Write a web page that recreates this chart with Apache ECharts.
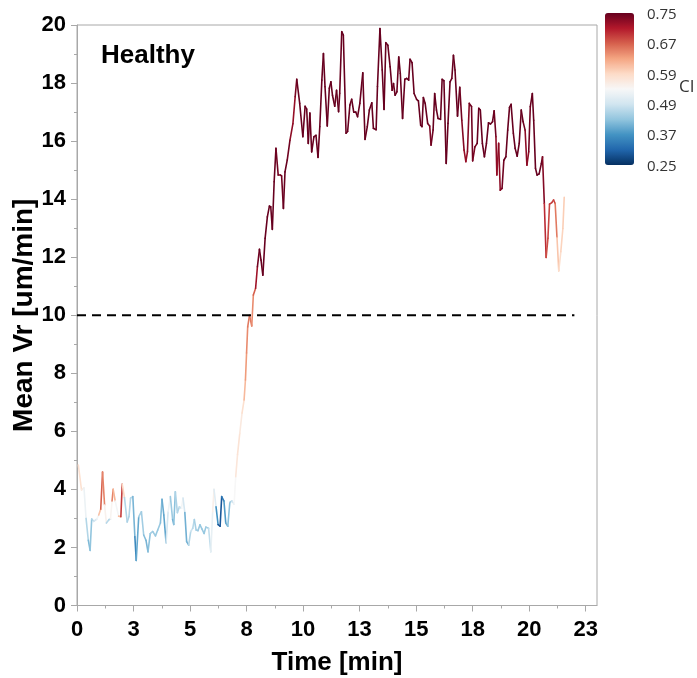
<!DOCTYPE html>
<html>
<head>
<meta charset="utf-8">
<script src="https://cdn.jsdelivr.net/npm/echarts@6/dist/echarts.min.js"></script>
<style>
  html, body { margin: 0; padding: 0; background: #fff; }
  #chart { width: 697px; height: 678px; }
</style>
</head>
<body>
<div id="chart"></div>
<script>
// Time of each sample [min]
const timeMin = [
  0.06, 0.2, 0.31, 0.4, 0.5, 0.58, 0.65, 0.74, 0.88, 0.96,
  1.05, 1.13, 1.22, 1.3, 1.42, 1.48, 1.55, 1.6, 1.69, 1.84,
  1.94, 2.0, 2.1, 2.22, 2.3, 2.37, 2.47, 2.56, 2.62, 2.73,
  2.85, 2.95, 3.05, 3.14, 3.24, 3.35, 3.47, 3.57, 3.69, 3.76,
  3.84, 3.94, 4.03, 4.13, 4.23, 4.28, 4.35, 4.44, 4.53, 4.62,
  4.69, 4.77, 4.85, 4.94, 5.03, 5.12, 5.19, 5.27, 5.35, 5.44,
  5.53, 5.62, 5.7, 5.82, 5.92, 6.0, 6.06, 6.15, 6.24, 6.33,
  6.4, 6.5, 6.58, 6.67, 6.76, 6.85, 6.95, 7.02, 7.1, 7.2,
  7.3, 7.39, 7.45, 7.5, 7.55, 7.63, 7.73, 7.8, 7.9, 7.98,
  8.07, 8.14, 8.22, 8.32, 8.42, 8.51, 8.57, 8.64, 8.72, 8.8,
  8.9, 9.0, 9.05, 9.13, 9.2, 9.3, 9.42, 9.55, 9.65, 9.72,
  9.85, 9.99, 10.09, 10.16, 10.23, 10.3, 10.38, 10.48, 10.57, 10.66,
  10.74, 10.83, 10.9, 10.97, 11.07, 11.16, 11.23, 11.3, 11.4, 11.48,
  11.57, 11.62, 11.71, 11.78, 11.9, 11.97, 12.07, 12.15, 12.24, 12.33,
  12.41, 12.51, 12.64, 12.74, 12.84, 12.93, 13.04, 13.11, 13.23, 13.29,
  13.4, 13.5, 13.58, 13.66, 13.75, 13.85, 13.94, 14.0, 14.07, 14.15,
  14.23, 14.3, 14.4, 14.5, 14.58, 14.67, 14.73, 14.82, 14.91, 15.02,
  15.1, 15.2, 15.26, 15.32, 15.4, 15.51, 15.6, 15.66, 15.75, 15.82,
  15.9, 15.97, 16.08, 16.15, 16.23, 16.33, 16.41, 16.5, 16.58, 16.65,
  16.72, 16.83, 16.93, 17.02, 17.12, 17.2, 17.27, 17.35, 17.45, 17.5,
  17.6, 17.7, 17.77, 17.84, 17.93, 18.02, 18.11, 18.2, 18.29, 18.38,
  18.45, 18.53, 18.57, 18.65, 18.72, 18.8, 18.88, 18.97, 19.05, 19.13,
  19.2, 19.3, 19.38, 19.47, 19.56, 19.65, 19.73, 19.82, 19.9, 19.98,
  20.05, 20.14, 20.2, 20.28, 20.35, 20.44, 20.54, 20.59, 20.67, 20.75,
  20.83, 20.9, 21.0, 21.08, 21.15, 21.23, 21.31, 21.4, 21.49, 21.55
];

// Mean radial velocity [um/min]
const meanVr = [
  4.84, 3.98, 4.05, 3.0, 2.25, 1.9, 2.98, 2.9, 2.98, 3.12,
  3.32, 4.6, 3.46, 2.84, 2.96, 2.98, 3.6, 4.0, 3.6, 3.08,
  3.06, 4.18, 3.72, 2.88, 3.07, 3.7, 3.75, 2.37, 1.55, 3.06,
  3.23, 2.43, 2.25, 1.85, 2.48, 2.55, 2.4, 2.6, 2.84, 3.66,
  3.12, 2.16, 3.23, 3.75, 2.96, 2.79, 3.92, 3.2, 3.4, 3.35,
  3.7, 3.2, 2.2, 2.08, 2.55, 2.66, 2.96, 2.6, 2.58, 2.78,
  2.63, 2.48, 2.7, 2.66, 1.85, 3.23, 4.0, 3.4, 2.79, 2.73,
  3.75, 3.6, 2.84, 2.73, 3.55, 3.6, 3.5, 4.44, 5.2, 5.94,
  6.63, 7.08, 7.77, 8.7, 9.6, 10.0, 9.63, 10.7, 10.93, 11.67,
  12.27, 11.9, 11.38, 12.65, 13.39, 13.76, 13.74, 12.96, 14.6, 15.75,
  14.83, 14.83, 14.8, 13.68, 14.94, 15.35, 16.03, 16.6, 17.53, 18.13,
  17.3, 16.15, 17.2, 17.1, 15.92, 16.97, 15.63, 16.15, 16.2, 15.44,
  16.5, 18.1, 19.02, 17.87, 16.52, 17.82, 18.04, 17.58, 17.2, 17.75,
  17.01, 17.65, 19.77, 19.65, 16.27, 16.33, 17.24, 17.44, 17.0, 17.0,
  16.84, 17.3, 18.35, 16.06, 16.5, 17.07, 17.32, 16.44, 16.39, 17.88,
  19.88, 18.45, 17.09, 19.39, 19.3, 18.56, 17.75, 17.98, 17.58, 17.7,
  18.9, 18.33, 16.78, 18.13, 18.16, 18.1, 18.82, 18.7, 17.64, 17.44,
  17.39, 16.55, 16.5, 17.5, 17.3, 16.61, 16.52, 15.86, 16.38, 17.64,
  17.07, 16.78, 16.75, 18.13, 18.08, 15.23, 16.61, 18.04, 18.16, 18.96,
  18.45, 16.86, 17.85, 16.72, 15.69, 15.29, 15.63, 17.3, 17.19, 15.32,
  15.8, 15.92, 17.13, 17.07, 15.92, 15.46, 15.92, 16.63, 16.59, 16.67,
  17.04, 16.15, 14.83, 15.92, 14.31, 14.37, 15.34, 15.46, 16.38, 17.16,
  17.27, 16.27, 15.75, 15.48, 15.92, 17.07, 16.67, 16.38, 15.17, 15.63,
  17.19, 17.64, 16.72, 15.06, 14.83, 14.87, 15.23, 15.46, 13.85, 11.99,
  12.65, 13.83, 13.88, 13.97, 13.85, 12.68, 11.53, 12.19, 12.99, 14.06
];

// Confidence index (CI) of each sample
const ci = [
  0.59, 0.57, 0.55, 0.50, 0.42, 0.41, 0.45, 0.47, 0.52, 0.55,
  0.66, 0.68, 0.62, 0.47, 0.46, 0.46, 0.62, 0.68, 0.55, 0.52,
  0.69, 0.69, 0.47, 0.45, 0.46, 0.46, 0.46, 0.36, 0.35, 0.44,
  0.46, 0.43, 0.41, 0.41, 0.44, 0.45, 0.43, 0.44, 0.43, 0.41,
  0.39, 0.39, 0.58, 0.47, 0.41, 0.40, 0.45, 0.46, 0.46, 0.50,
  0.57, 0.41, 0.40, 0.42, 0.50, 0.47, 0.46, 0.44, 0.45, 0.43,
  0.44, 0.43, 0.44, 0.45, 0.50, 0.54, 0.57, 0.44, 0.30, 0.29,
  0.30, 0.37, 0.39, 0.41, 0.44, 0.46, 0.52, 0.56, 0.58, 0.57,
  0.56, 0.60, 0.63, 0.64, 0.65, 0.66, 0.65, 0.64, 0.70, 0.74,
  0.76, 0.76, 0.76, 0.76, 0.76, 0.76, 0.76, 0.76, 0.76, 0.76,
  0.74, 0.74, 0.74, 0.76, 0.76, 0.76, 0.74, 0.72, 0.73, 0.76,
  0.76, 0.76, 0.76, 0.76, 0.76, 0.76, 0.76, 0.76, 0.76, 0.76,
  0.76, 0.76, 0.76, 0.76, 0.76, 0.76, 0.76, 0.76, 0.76, 0.76,
  0.76, 0.76, 0.76, 0.76, 0.76, 0.76, 0.76, 0.76, 0.76, 0.76,
  0.76, 0.76, 0.76, 0.76, 0.76, 0.76, 0.76, 0.76, 0.76, 0.76,
  0.76, 0.76, 0.76, 0.76, 0.76, 0.76, 0.76, 0.76, 0.76, 0.76,
  0.76, 0.76, 0.76, 0.76, 0.76, 0.76, 0.76, 0.76, 0.76, 0.76,
  0.76, 0.76, 0.76, 0.76, 0.76, 0.76, 0.74, 0.74, 0.76, 0.76,
  0.76, 0.76, 0.76, 0.76, 0.76, 0.76, 0.76, 0.76, 0.76, 0.76,
  0.76, 0.76, 0.76, 0.74, 0.73, 0.72, 0.73, 0.74, 0.76, 0.74,
  0.74, 0.76, 0.76, 0.76, 0.76, 0.76, 0.76, 0.76, 0.76, 0.76,
  0.76, 0.74, 0.72, 0.73, 0.73, 0.74, 0.76, 0.76, 0.76, 0.76,
  0.76, 0.76, 0.76, 0.76, 0.76, 0.76, 0.76, 0.74, 0.72, 0.74,
  0.76, 0.76, 0.76, 0.76, 0.76, 0.76, 0.76, 0.76, 0.72, 0.68,
  0.68, 0.69, 0.69, 0.69, 0.68, 0.63, 0.58, 0.59, 0.60, 0.60
];

// Colour-bar tick values, bottom to top (evenly spaced on the bar)
const ciTicks = [0.25, 0.37, 0.49, 0.59, 0.67, 0.75];
const ciLabels = ['0.25', '0.37', '0.49', '0.59', '0.67', '0.75'];

// x axis: labelled ticks every 2.5 min, minor ticks in between
const xMajorTicks = [0, 2.5, 5, 7.5, 10, 12.5, 15, 17.5, 20, 22.5];
const xMinorTicks = [1.25, 3.75, 6.25, 8.75, 11.25, 13.75, 16.25, 18.75, 21.25];

// Reference level drawn as a dashed line
const thresholdVr = 10;
const thresholdSpan = [0, 22];

// Diverging red-blue palette, low to high
const rdbu = ['#053061', '#2166ac', '#4393c3', '#92c5de', '#d1e5f0', '#f7f7f7',
              '#fddbc7', '#f4a582', '#d6604d', '#b2182b', '#67001f'];

const FONT = '"Liberation Sans", Arial, Helvetica, sans-serif';

// Position of a CI value on the colour bar (0 .. ciTicks.length-1)
function ciToBar(v) {
  if (v <= ciTicks[0]) return 0;
  const last = ciTicks.length - 1;
  if (v >= ciTicks[last]) return last;
  for (let k = 0; k < last; k++) {
    if (v <= ciTicks[k + 1]) {
      return k + (v - ciTicks[k]) / (ciTicks[k + 1] - ciTicks[k]);
    }
  }
  return last;
}

// One item per line piece: [t0, v0, t1, v1, bar position]
const pieces = [];
for (let i = 0; i < timeMin.length - 1; i++) {
  pieces.push([timeMin[i], meanVr[i], timeMin[i + 1], meanVr[i + 1],
               (ciToBar(ci[i]) + ciToBar(ci[i + 1])) / 2]);
}

// Colour-bar geometry
const barLeft = 605, barTop = 13, barW = 29, barH = 152;
const cbGraphics = [];
ciLabels.forEach(function (lab, k) {
  const y = barTop + barH - k * (barH / (ciLabels.length - 1));
  cbGraphics.push({
    type: 'text', left: barLeft + barW + 13, top: y - 6,
    style: { text: lab, font: '15px "Open Sans", "Noto Sans", sans-serif', fill: '#333' }
  });
});
cbGraphics.push({
  type: 'text', left: 679, top: 79,
  style: { text: 'CI', font: '17px "Open Sans", "Noto Sans", sans-serif', fill: '#333' }
});

const chart = echarts.init(document.getElementById('chart'), null, { renderer: 'canvas' });

const axisGray = '#a8a8a8';

chart.setOption({
  animation: false,
  backgroundColor: '#fff',
  title: {
    text: 'Healthy', left: 96, top: 38,
    textStyle: { fontFamily: FONT, fontWeight: 'bold', fontSize: 26, color: '#000' }
  },
  grid: {
    left: 77, top: 25, width: 520, height: 580.5,
    outerBoundsMode: 'none', containLabel: false,
    show: true, borderColor: axisGray, borderWidth: 1, backgroundColor: 'transparent'
  },
  xAxis: [{
    type: 'value', min: 0, max: 23,
    name: 'Time [min]', nameLocation: 'middle', nameGap: 44, nameMoveOverlap: false,
    nameTextStyle: { fontFamily: FONT, fontWeight: 'bold', fontSize: 26, color: '#000' },
    axisLine: { show: true, lineStyle: { color: axisGray, width: 1 } },
    axisTick: { show: true, length: 6, customValues: xMajorTicks, lineStyle: { color: axisGray } },
    axisLabel: {
      show: true, customValues: xMajorTicks, margin: 13,
      fontFamily: FONT, fontWeight: 'bold', fontSize: 22, color: '#000',
      formatter: function (v) { return String(Math.round(v)); }
    },
    splitLine: { show: false }
  }, {
    type: 'value', min: 0, max: 23, gridIndex: 0, position: 'bottom',
    axisLine: { show: false },
    axisTick: { show: true, length: 3, customValues: xMinorTicks, lineStyle: { color: axisGray } },
    axisLabel: { show: false },
    splitLine: { show: false }
  }],
  yAxis: {
    type: 'value', min: 0, max: 20, interval: 2,
    name: 'Mean Vr [um/min]', nameLocation: 'middle', nameGap: 39, nameMoveOverlap: false,
    nameTextStyle: { fontFamily: FONT, fontWeight: 'bold', fontSize: 28, color: '#000' },
    axisLine: { show: true, lineStyle: { color: axisGray, width: 1 } },
    axisTick: { show: true, length: 6, lineStyle: { color: axisGray } },
    minorTick: { show: true, splitNumber: 2, length: 3, lineStyle: { color: axisGray } },
    axisLabel: { margin: 11, fontFamily: FONT, fontWeight: 'bold', fontSize: 22, color: '#000' },
    splitLine: { show: false }
  },
  visualMap: {
    type: 'continuous', seriesIndex: 0, dimension: 4,
    min: 0, max: ciTicks.length - 1,
    orient: 'vertical', left: barLeft, top: barTop,
    itemWidth: barW, itemHeight: barH, padding: 0,
    calculable: false, text: null, showLabel: false,
    inRange: { color: rdbu }
  },
  graphic: cbGraphics,
  series: [{
    type: 'custom',
    xAxisIndex: 0,
    encode: { x: [0, 2], y: [1, 3] },
    data: pieces,
    clip: true,
    renderItem: function (params, api) {
      const a = api.coord([api.value(0), api.value(1)]);
      const b = api.coord([api.value(2), api.value(3)]);
      return {
        type: 'line',
        shape: { x1: a[0], y1: a[1], x2: b[0], y2: b[1] },
        style: { stroke: api.visual('color'), lineWidth: 1.6, lineCap: 'round' }
      };
    }
  }, {
    type: 'line',
    xAxisIndex: 0,
    data: [[thresholdSpan[0], thresholdVr], [thresholdSpan[1], thresholdVr]],
    symbol: 'none',
    lineStyle: { color: '#000', width: 2, type: [9, 6] },
    z: 3
  }]
});
</script>
</body>
</html>
